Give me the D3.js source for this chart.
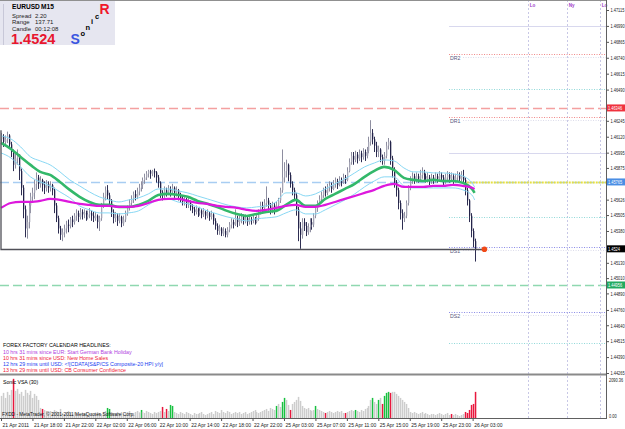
<!DOCTYPE html>
<html><head><meta charset="utf-8">
<script src="https://cdn.jsdelivr.net/npm/d3@7"></script>
<style>body{margin:0;background:#fff}svg{display:block;font-family:"Liberation Sans",Arial,sans-serif}</style>
</head><body><svg id="c" width="625" height="429"></svg>
<script>
// ---------------- DATA ----------------
const close=[1.4612,1.4608,1.4610,1.4613,1.4606,1.4600,1.4590,1.4595,1.4598,1.4585,
1.4572,1.4555,1.4540,1.4545,1.4558,1.4565,1.4568,1.4575,1.4580,1.4575,
1.4578,1.4574,1.4572,1.4575,1.4572,1.4574,1.4570,1.4558,1.4548,1.4540,
1.4535,1.4537,1.4540,1.4543,1.4542,1.4547,1.4545,1.4550,1.4552,1.4549,
1.4553,1.4551,1.4552,1.4549,1.4551,1.4552,1.4550,1.4548,1.4550,1.4545,
1.4548,1.4558,1.4565,1.4570,1.4566,1.4562,1.4553,1.4548,1.4550,1.4546,
1.4549,1.4544,1.4547,1.4552,1.4556,1.4560,1.4563,1.4567,1.4565,1.4569,
1.4572,1.4574,1.4578,1.4580,1.4583,1.4585,1.4583,1.4585,1.4584,1.4580,
1.4576,1.4568,1.4566,1.4570,1.4568,1.4571,1.4569,1.4572,1.4568,1.4570,
1.4566,1.4564,1.4561,1.4563,1.4559,1.4561,1.4557,1.4555,1.4553,1.4555,
1.4552,1.4554,1.4551,1.4553,1.4550,1.4552,1.4549,1.4551,1.4546,1.4542,
1.4538,1.4540,1.4536,1.4538,1.4535,1.4539,1.4543,1.4545,1.4543,1.4548,
1.4545,1.4547,1.4549,1.4546,1.4548,1.4545,1.4547,1.4546,1.4548,1.4545,
1.4548,1.4553,1.4558,1.4556,1.4560,1.4562,1.4558,1.4555,1.4558,1.4554,
1.4558,1.4562,1.4570,1.4580,1.4585,1.4590,1.4582,1.4575,1.4570,1.4566,
1.4555,1.4540,1.4535,1.4545,1.4542,1.4537,1.4541,1.4545,1.4543,1.4550,
1.4556,1.4560,1.4563,1.4566,1.4570,1.4568,1.4572,1.4574,1.4571,1.4575,
1.4577,1.4574,1.4578,1.4576,1.4580,1.4578,1.4585,1.4592,1.4597,1.4594,
1.4598,1.4595,1.4599,1.4596,1.4600,1.4597,1.4601,1.4608,1.4615,1.4610,
1.4605,1.4600,1.4602,1.4596,1.4593,1.4597,1.4605,1.4608,1.4595,1.4585,
1.4576,1.4570,1.4560,1.4552,1.4548,1.4550,1.4560,1.4572,1.4578,1.4581,
1.4578,1.4581,1.4579,1.4582,1.4584,1.4581,1.4579,1.4580,1.4577,1.4580,
1.4578,1.4581,1.4579,1.4582,1.4580,1.4577,1.4580,1.4582,1.4579,1.4581,
1.4578,1.4580,1.4582,1.4579,1.4581,1.4578,1.4570,1.4562,1.4550,1.4538,
1.4530,1.4524];
const open=[1.4610,1.4612,1.4608,1.4610,1.4613,1.4606,1.4600,1.4590,1.4595,1.4598,
1.4585,1.4572,1.4555,1.4540,1.4545,1.4558,1.4565,1.4568,1.4575,1.4580,
1.4575,1.4578,1.4574,1.4572,1.4575,1.4572,1.4574,1.4570,1.4558,1.4548,
1.4540,1.4535,1.4537,1.4540,1.4543,1.4542,1.4547,1.4545,1.4550,1.4552,
1.4549,1.4553,1.4551,1.4552,1.4549,1.4551,1.4552,1.4550,1.4548,1.4550,
1.4545,1.4548,1.4558,1.4565,1.4570,1.4566,1.4562,1.4553,1.4548,1.4550,
1.4546,1.4549,1.4544,1.4547,1.4552,1.4556,1.4560,1.4563,1.4567,1.4565,
1.4569,1.4572,1.4574,1.4578,1.4580,1.4583,1.4585,1.4583,1.4585,1.4584,
1.4580,1.4576,1.4568,1.4566,1.4570,1.4568,1.4571,1.4569,1.4572,1.4568,
1.4570,1.4566,1.4564,1.4561,1.4563,1.4559,1.4561,1.4557,1.4555,1.4553,
1.4555,1.4552,1.4554,1.4551,1.4553,1.4550,1.4552,1.4549,1.4551,1.4546,
1.4542,1.4538,1.4540,1.4536,1.4538,1.4535,1.4539,1.4543,1.4545,1.4543,
1.4548,1.4545,1.4547,1.4549,1.4546,1.4548,1.4545,1.4547,1.4546,1.4548,
1.4545,1.4548,1.4553,1.4558,1.4556,1.4560,1.4562,1.4558,1.4555,1.4558,
1.4554,1.4558,1.4562,1.4570,1.4580,1.4585,1.4590,1.4582,1.4575,1.4570,
1.4566,1.4555,1.4540,1.4535,1.4545,1.4542,1.4537,1.4541,1.4545,1.4543,
1.4550,1.4556,1.4560,1.4563,1.4566,1.4570,1.4568,1.4572,1.4574,1.4571,
1.4575,1.4577,1.4574,1.4578,1.4576,1.4580,1.4578,1.4585,1.4592,1.4597,
1.4594,1.4598,1.4595,1.4599,1.4596,1.4600,1.4597,1.4601,1.4608,1.4615,
1.4610,1.4605,1.4600,1.4602,1.4596,1.4593,1.4597,1.4605,1.4608,1.4595,
1.4585,1.4576,1.4570,1.4560,1.4552,1.4548,1.4550,1.4560,1.4572,1.4578,
1.4581,1.4578,1.4581,1.4579,1.4582,1.4584,1.4581,1.4579,1.4580,1.4577,
1.4580,1.4578,1.4581,1.4579,1.4582,1.4580,1.4577,1.4580,1.4582,1.4579,
1.4581,1.4578,1.4580,1.4582,1.4579,1.4581,1.4578,1.4570,1.4562,1.4550,
1.4538,1.4530];
const high=[1.4615,1.4614,1.4613,1.4616,1.4614,1.4608,1.4602,1.4600,1.4602,1.4598,
1.4587,1.4574,1.4558,1.4550,1.4560,1.4568,1.4572,1.4578,1.4584,1.4582,
1.4581,1.4579,1.4577,1.4578,1.4577,1.4577,1.4575,1.4572,1.4560,1.4550,
1.4542,1.4540,1.4543,1.4546,1.4547,1.4549,1.4550,1.4552,1.4555,1.4554,
1.4556,1.4555,1.4555,1.4554,1.4554,1.4556,1.4554,1.4553,1.4553,1.4551,
1.4550,1.4560,1.4568,1.4573,1.4574,1.4568,1.4563,1.4555,1.4553,1.4552,
1.4552,1.4550,1.4550,1.4554,1.4558,1.4563,1.4566,1.4569,1.4570,1.4572,
1.4575,1.4577,1.4580,1.4583,1.4585,1.4586,1.4586,1.4586,1.4587,1.4585,
1.4582,1.4577,1.4570,1.4573,1.4572,1.4574,1.4573,1.4575,1.4573,1.4573,
1.4571,1.4568,1.4566,1.4566,1.4564,1.4564,1.4562,1.4559,1.4557,1.4558,
1.4556,1.4557,1.4555,1.4556,1.4554,1.4555,1.4553,1.4554,1.4552,1.4548,
1.4544,1.4543,1.4541,1.4541,1.4540,1.4541,1.4545,1.4548,1.4547,1.4555,
1.4550,1.4550,1.4552,1.4551,1.4551,1.4550,1.4550,1.4549,1.4551,1.4549,
1.4551,1.4555,1.4561,1.4561,1.4563,1.4573,1.4564,1.4560,1.4561,1.4560,
1.4561,1.4564,1.4572,1.4602,1.4592,1.4594,1.4591,1.4584,1.4577,1.4572,
1.4568,1.4557,1.4545,1.4548,1.4548,1.4545,1.4544,1.4548,1.4548,1.4552,
1.4558,1.4562,1.4566,1.4569,1.4572,1.4573,1.4575,1.4577,1.4576,1.4578,
1.4580,1.4579,1.4581,1.4580,1.4583,1.4582,1.4588,1.4595,1.4600,1.4600,
1.4601,1.4600,1.4602,1.4601,1.4603,1.4602,1.4604,1.4612,1.4625,1.4618,
1.4612,1.4608,1.4605,1.4603,1.4598,1.4600,1.4608,1.4611,1.4609,1.4597,
1.4588,1.4578,1.4572,1.4562,1.4555,1.4553,1.4562,1.4574,1.4581,1.4584,
1.4583,1.4584,1.4583,1.4586,1.4588,1.4586,1.4583,1.4584,1.4582,1.4583,
1.4582,1.4584,1.4583,1.4585,1.4584,1.4582,1.4583,1.4585,1.4584,1.4584,
1.4583,1.4583,1.4585,1.4584,1.4585,1.4586,1.4580,1.4572,1.4563,1.4552,
1.4540,1.4532];
const low=[1.4606,1.4604,1.4605,1.4607,1.4603,1.4596,1.4585,1.4587,1.4590,1.4578,
1.4566,1.4548,1.4533,1.4532,1.4540,1.4552,1.4560,1.4563,1.4570,1.4571,
1.4572,1.4569,1.4567,1.4569,1.4568,1.4569,1.4566,1.4552,1.4545,1.4536,
1.4531,1.4530,1.4533,1.4536,1.4537,1.4540,1.4541,1.4543,1.4546,1.4545,
1.4547,1.4547,1.4548,1.4546,1.4547,1.4548,1.4546,1.4545,1.4546,1.4540,
1.4538,1.4546,1.4556,1.4562,1.4563,1.4558,1.4549,1.4544,1.4545,1.4542,
1.4544,1.4541,1.4542,1.4545,1.4550,1.4554,1.4558,1.4560,1.4562,1.4563,
1.4566,1.4569,1.4571,1.4575,1.4578,1.4580,1.4579,1.4581,1.4580,1.4576,
1.4572,1.4564,1.4562,1.4564,1.4565,1.4566,1.4565,1.4567,1.4564,1.4565,
1.4562,1.4560,1.4558,1.4558,1.4556,1.4556,1.4554,1.4552,1.4550,1.4551,
1.4549,1.4550,1.4548,1.4549,1.4547,1.4548,1.4546,1.4547,1.4543,1.4539,
1.4535,1.4535,1.4534,1.4534,1.4533,1.4533,1.4537,1.4540,1.4540,1.4542,
1.4541,1.4542,1.4544,1.4543,1.4544,1.4542,1.4543,1.4543,1.4544,1.4543,
1.4544,1.4546,1.4551,1.4553,1.4554,1.4557,1.4554,1.4551,1.4552,1.4551,
1.4553,1.4556,1.4560,1.4568,1.4576,1.4580,1.4577,1.4572,1.4566,1.4563,
1.4550,1.4530,1.4524,1.4532,1.4538,1.4534,1.4535,1.4537,1.4539,1.4541,
1.4548,1.4553,1.4557,1.4561,1.4564,1.4565,1.4566,1.4569,1.4568,1.4570,
1.4572,1.4571,1.4573,1.4573,1.4575,1.4575,1.4577,1.4584,1.4590,1.4590,
1.4592,1.4591,1.4593,1.4592,1.4594,1.4593,1.4595,1.4599,1.4605,1.4606,
1.4600,1.4596,1.4596,1.4592,1.4590,1.4590,1.4595,1.4602,1.4590,1.4580,
1.4572,1.4565,1.4555,1.4547,1.4539,1.4545,1.4548,1.4558,1.4570,1.4575,
1.4575,1.4576,1.4576,1.4577,1.4579,1.4578,1.4576,1.4576,1.4574,1.4575,
1.4575,1.4576,1.4576,1.4577,1.4577,1.4574,1.4575,1.4577,1.4576,1.4577,
1.4575,1.4576,1.4577,1.4576,1.4577,1.4575,1.4566,1.4558,1.4545,1.4533,
1.4525,1.4514];
const volume=[1100,1250,1000,1300,1150,1400,1950,1350,1450,1200,1300,1100,1400,1250,1150,1350,1000,1200,1100,900,
500,450,400,350,300,350,300,400,350,300,450,250,200,300,350,250,200,300,250,200,
150,250,200,300,150,200,250,180,220,300,250,200,300,350,500,450,300,250,200,300,
250,300,200,250,300,350,200,250,300,350,280,400,300,250,350,300,250,200,300,250,
300,350,550,300,450,350,650,600,300,250,200,300,250,200,300,250,200,150,250,200,
200,250,300,200,150,200,250,300,200,350,300,250,400,300,250,350,300,200,250,300,
250,300,200,250,300,200,250,300,350,400,300,250,300,350,400,450,350,500,450,400,
600,700,550,800,1000,900,650,400,700,800,900,1050,850,600,500,450,500,400,350,400,
600,450,400,350,300,250,300,350,300,250,300,350,300,350,250,250,300,350,400,350,
400,350,300,400,350,450,500,600,900,1000,800,700,900,1000,700,1100,1250,1300,1250,1300,
1300,1200,1100,1000,900,800,700,500,300,250,300,250,200,250,300,200,250,200,150,200,
200,150,200,250,200,150,200,250,150,200,150,200,150,100,150,200,300,250,400,650,
700,1300];
const volType=("nnnnnnrnnn"+"nnnnnnnnnn"+"nrnnnnnnnn"+"nnnnnnnnnn"+"nnnnnnnnnn"+"nnnnggnnnn"+
"nnnnnnnnnn"+"ngnnnnnnnn"+"nnrnrnggnn"+"nnnnnnnnnn"+"nnnnnnnnnn"+"nnnnnnnnnn"+"nnnnnnnnnn"+
"nnnnnnnnnn"+"gnnggnnrnn"+"nnnnnnnnnn"+"gnnnnrnnnn"+"nnnnnrnnnn"+"gnnnnnnnng"+"nngnrgggrn"+
"nnnnnnnnnn"+"nnnnnnnnnn"+"nnnnnnnnnr"+"nnnnnnrrrr"+"rr").split("");
// indicator lines sampled every 5 bars (+ last bar)
const maBars=[0,5,10,15,20,25,30,35,40,45,50,55,60,65,70,75,80,85,90,95,100,105,110,115,120,125,130,135,140,145,150,155,160,165,170,175,180,185,190,195,200,205,210,215,220,225,230,235,240,241];
const maFast=[1.46071,1.46024,1.45961,1.45899,1.45844,1.45820,1.45765,1.45703,1.45648,1.45608,1.45585,1.45585,1.45569,1.45569,1.45585,1.45616,1.45663,1.45671,1.45663,1.45648,1.45616,1.45593,1.45569,1.45538,1.45514,1.45498,1.45514,1.45530,1.45538,1.45585,1.45624,1.45577,1.45577,1.45632,1.45671,1.45710,1.45750,1.45805,1.45852,1.45883,1.45860,1.45797,1.45781,1.45773,1.45781,1.45773,1.45773,1.45758,1.45703,1.45679];
const bandUp=[1.46126,1.46103,1.46040,1.45962,1.45930,1.45899,1.45844,1.45781,1.45734,1.45687,1.45648,1.45624,1.45608,1.45624,1.45640,1.45671,1.45710,1.45710,1.45695,1.45679,1.45655,1.45632,1.45608,1.45585,1.45569,1.45561,1.45569,1.45577,1.45608,1.45679,1.45679,1.45655,1.45671,1.45710,1.45750,1.45789,1.45836,1.45883,1.45914,1.45938,1.45930,1.45875,1.45844,1.45844,1.45836,1.45836,1.45828,1.45812,1.45750,1.45726];
const bandDn=[1.45993,1.45954,1.45883,1.45805,1.45765,1.45734,1.45687,1.45640,1.45577,1.45546,1.45522,1.45522,1.45514,1.45522,1.45538,1.45585,1.45624,1.45632,1.45608,1.45593,1.45569,1.45538,1.45514,1.45491,1.45475,1.45459,1.45475,1.45483,1.45491,1.45522,1.45546,1.45514,1.45514,1.45546,1.45585,1.45624,1.45671,1.45726,1.45773,1.45805,1.45805,1.45734,1.45718,1.45718,1.45718,1.45718,1.45718,1.45703,1.45655,1.45624];
const maSlow=[1.45561,1.45600,1.45608,1.45608,1.45616,1.45632,1.45624,1.45608,1.45593,1.45585,1.45577,1.45577,1.45569,1.45569,1.45577,1.45600,1.45624,1.45632,1.45632,1.45616,1.45600,1.45593,1.45577,1.45569,1.45561,1.45546,1.45538,1.45546,1.45561,1.45577,1.45585,1.45569,1.45569,1.45585,1.45608,1.45632,1.45655,1.45679,1.45703,1.45734,1.45750,1.45726,1.45726,1.45726,1.45734,1.45734,1.45742,1.45734,1.45718,1.45710];
const priceTicks=[1.47115,1.46990,1.46865,1.46740,1.46615,1.46490,1.46365,1.46245,1.46120,1.45995,1.45875,1.45750,1.45626,1.45505,1.45380,1.45255,1.45130,1.45010,1.44890,1.44760,1.44640,1.44515,1.44390,1.44265];
const timeTickBars=[0,16,32,48,64,80,96,112,128,144,160,176,192,208,224,240];
const timeTickLabels=["21 Apr 2011","21 Apr 18:00","21 Apr 22:00","22 Apr 02:00","22 Apr 06:00","22 Apr 10:00","22 Apr 14:00","22 Apr 18:00","22 Apr 22:00","25 Apr 03:00","25 Apr 07:00","25 Apr 11:00","25 Apr 15:00","25 Apr 19:00","25 Apr 23:00","26 Apr 03:00"];
const pivotPrices=[1.46990,1.46770,1.46495,1.46275,1.45992,1.45765,1.45490,1.45254,1.44744,1.44501];
const pivotNames=["","DR2","","DR1","","","","DS1","DS2",""];
const pivotKinds=["lav","red","cyan","red","lav","yellow","cyan","blue","blue","cyan"];
const levelPrices=[1.46346,1.45765,1.44956];
const levelLabels=["1.46346","1.45765","1.44956"];
const sessionBars=[268,288,305];
const sessionNames=["Lo","Ny","Lo"];
const lastPrice=1.4524, lastBar=241, volMax=2090.36;
const headlines=["FOREX FACTORY CALENDAR HEADLINES:","10 hrs 31 mins since EUR: Start German Bank Holiday","10 hrs 31 mins since USD: New Home Sales","12 hrs 29 mins until USD: \x3C![CDATA[S&P/CS Composite-20 HPI y/y]","13 hrs 29 mins until USD: CB Consumer Confidence"];

// ---------------- DRAW ----------------
const svg=d3.select("#c");
const W=606, mainBot=374, volTop=376, volBot=418, SX=0.7;
const x=d3.scaleLinear().domain([0,241]).range([1,474.6]);
const y=d3.scaleLinear().domain([1.44265,1.47115]).range([373,10]);
const yv=d3.scaleLinear().domain([0,volMax]).range([volBot,volTop]);
svg.append("rect").attr("width",625).attr("height",429).attr("fill","#fff");
const main=svg.append("g");
const lvlColors=["#f4a0a0","#a8cdf2","#8fd8b0"];
levelPrices.forEach((p,k)=>{
  main.append("line").attr("x1",0).attr("x2",W).attr("y1",Math.round(y(p))+0.5).attr("y2",Math.round(y(p))+0.5)
   .attr("stroke",lvlColors[k]).attr("stroke-width",1.6).attr("stroke-dasharray","9,4");
});
sessionBars.forEach((b,k)=>{
  const xx=Math.round(x(b))+0.5;
  main.append("line").attr("x1",xx).attr("x2",xx).attr("y1",0).attr("y2",volBot).attr("stroke","#c8c8e6").attr("stroke-dasharray","2,2");
  main.append("text").attr("x",xx+1.2).attr("y",6.5).attr("font-size",4.6).attr("fill","#a040c8").attr("font-weight","bold").text(sessionNames[k]);
});
const pk={lav:{c:"#d8d8ee",d:null,w:1.2},red:{c:"#f08888",d:"1,1.5",w:1},cyan:{c:"#90d8d8",d:"1,1.5",w:1},yellow:{c:"#e6e040",d:"2,1",w:2},blue:{c:"#8a8ae6",d:"1,1.5",w:1}};
pivotPrices.forEach((p,k)=>{
  const s=pk[pivotKinds[k]], yy=Math.round(y(p))+0.5;
  const x1=pivotKinds[k]==="yellow"?x(237):x(228);
  main.append("line").attr("x1",x1).attr("x2",W).attr("y1",yy).attr("y2",yy).attr("stroke",s.c).attr("stroke-width",s.w).attr("stroke-dasharray",s.d);
  if(pivotNames[k]){
    main.append("line").attr("x1",x(228)+14).attr("x2",W).attr("y1",yy+3).attr("y2",yy+3).attr("stroke","#dcdcea").attr("stroke-dasharray","1,1.5");
    main.append("text").attr("x",x(228)+1).attr("y",yy+5).attr("font-size",5.2).attr("fill","#55557a").text(pivotNames[k]);
  }
});
const idx=d3.range(close.length);
main.append("g").selectAll("line").data(idx).join("line")
 .attr("x1",i=>Math.round(x(i))+0.5).attr("x2",i=>Math.round(x(i))+0.5)
 .attr("y1",i=>y(high[i])).attr("y2",i=>y(low[i]))
 .attr("stroke",i=>close[i]>=open[i]?"#8e8ea0":"#2e2e52").attr("stroke-width",1);
main.append("g").selectAll("rect").data(idx).join("rect")
 .attr("x",i=>Math.round(x(i))).attr("width",1.3)
 .attr("y",i=>y(Math.max(open[i],close[i]))).attr("height",i=>Math.max(0.8,Math.abs(y(open[i])-y(close[i]))))
 .attr("fill",i=>close[i]>=open[i]?"#a4a4b4":"#24244a");
const ln=arr=>d3.line().x((d,k)=>x(maBars[k])).y(d=>y(d)).curve(d3.curveMonotoneX)(arr);
main.append("path").attr("d",ln(bandUp)).attr("fill","none").attr("stroke","#88d8f4").attr("stroke-width",1);
main.append("path").attr("d",ln(bandDn)).attr("fill","none").attr("stroke","#88d8f4").attr("stroke-width",1);
main.append("path").attr("d",ln(maFast)).attr("fill","none").attr("stroke","#33b86a").attr("stroke-width",2.6);
main.append("path").attr("d",ln(maSlow)).attr("fill","none").attr("stroke","#dd18dd").attr("stroke-width",2.2);
main.append("path").attr("d",`M${x(0)},${y(1.4617)}V${Math.round(y(lastPrice))+0.5}H${x(245)}`).attr("fill","none").attr("stroke","#505058").attr("stroke-width",1.3);
main.append("circle").attr("cx",x(246)).attr("cy",y(lastPrice)+0.5).attr("r",2.8).attr("fill","#f04a18");
const hlColors=["#000","#b040e0","#f01838","#2040f0","#f01838"];
const hlY=[346.8,354.3,360,365.8,371.8];
headlines.forEach((t,k)=>svg.append("text").attr("x",3).attr("y",hlY[k]).attr("font-size",5.3).attr("fill",hlColors[k]).text(t));
// info box
svg.append("rect").attr("x",0).attr("y",0).attr("width",115).attr("height",45).attr("fill","#e6e6f0");
svg.append("line").attr("x1",3.5).attr("x2",3.5).attr("y1",4).attr("y2",45).attr("stroke","#c8c8d8");
const info=svg.append("g").attr("font-size",6);
info.append("text").attr("x",12).attr("y",8.5).attr("font-weight","bold").attr("font-size",6.6).text("EURUSD");
info.append("text").attr("x",41).attr("y",8.5).attr("font-weight","bold").attr("font-size",6.6).text("M15");
[["Spread","2.20",17.5],["Range","137.71",24],["Candle","00:12:08",30.5]].forEach(r=>{
  info.append("text").attr("x",12).attr("y",r[2]).attr("fill","#222").text(r[0]);
  info.append("text").attr("x",35).attr("y",r[2]).attr("fill","#222").text(r[1]);
});
info.append("text").attr("x",11).attr("y",43.5).attr("font-size",14.5).attr("font-weight","bold").attr("fill","#e8162e").text(lastPrice.toFixed(4));
info.append("text").attr("x",70.6).attr("y",43.5).attr("font-size",14).attr("font-weight","bold").attr("fill","#3a55e0").text("S");
info.append("text").attr("x",80.6).attr("y",35.5).attr("font-size",7.5).attr("font-weight","bold").text("o");
info.append("text").attr("x",85.6).attr("y",29.5).attr("font-size",7.5).attr("font-weight","bold").text("n");
info.append("text").attr("x",91).attr("y",23.5).attr("font-size",7.5).attr("font-weight","bold").text("i");
info.append("text").attr("x",95).attr("y",18.5).attr("font-size",7.5).attr("font-weight","bold").text("c");
info.append("text").attr("x",99.5).attr("y",13.5).attr("font-size",14).attr("font-weight","bold").attr("fill","#f0182a").text("R");
// volume panel
svg.append("g").selectAll("rect").data(idx).join("rect")
 .attr("x",i=>Math.round(x(i))-0.2).attr("width",1.5)
 .attr("y",i=>yv(volume[i])).attr("height",i=>volBot-yv(volume[i]))
 .attr("fill",i=>volType[i]==="g"?"#18c040":volType[i]==="r"?"#e8183e":"#cdcdcd");
svg.append("text").attr("x",3).attr("y",384).attr("font-size",5.2).text("Sonic VSA (30)");
svg.append("text").attr("x",2).attr("y",416).attr("font-size",4.8).attr("fill","#111").text("FXDD - MetaTrader, \u00A9 2001-2011 MetaQuotes Software Corp.");
// frames
svg.append("line").attr("x1",0).attr("x2",W).attr("y1",0.5).attr("y2",0.5).attr("stroke","#909090");
svg.append("rect").attr("x",0).attr("y",mainBot-0.5).attr("width",W).attr("height",2).attr("fill","#8a8a8a");
svg.append("line").attr("x1",0).attr("x2",W).attr("y1",volBot+0.5).attr("y2",volBot+0.5).attr("stroke","#606060");
svg.append("line").attr("x1",W+0.5).attr("x2",W+0.5).attr("y1",0).attr("y2",volBot+1).attr("stroke","#606060");
// right price axis: condensed labels (horizontal scale) so they fit like the reference
const boxPrices=[levelPrices[0],levelPrices[1],lastPrice,levelPrices[2]];
const ax=svg.append("g").attr("transform",`translate(${W+0.5},0)`)
 .call(d3.axisRight(y).tickValues(priceTicks).tickFormat(d3.format(".5f")).tickSize(2.5).tickPadding(1.5));
ax.select(".domain").remove();
ax.selectAll("line").attr("stroke","#555");
ax.selectAll(".tick").filter(d=>boxPrices.some(b=>Math.abs(y(d)-y(b))<3.6)).select("text").remove();
ax.selectAll("text").attr("font-size",5.6).attr("font-family","Liberation Sans,Arial").attr("fill","#222")
  .attr("x",4/SX).attr("transform",`scale(${SX},1)`);
const boxC=["#f0323e","#4a8ee4","#000000","#22aa60"];
[[boxPrices[0],levelLabels[0],0],[boxPrices[1],levelLabels[1],1],[boxPrices[2],lastPrice.toFixed(4),2],[boxPrices[3],levelLabels[2],3]].forEach(b=>{
  const yy=y(b[0]);
  svg.append("rect").attr("x",W+1).attr("y",yy-3.5).attr("width",18).attr("height",7).attr("fill",boxC[b[2]]);
  svg.append("text").attr("transform",`translate(${W+2},${yy+2}) scale(${SX},1)`).attr("font-size",5.6).attr("fill","#fff").text(b[1]);
});
svg.append("text").attr("transform",`translate(${W+3},${volTop+6}) scale(${SX},1)`).attr("font-size",5.6).attr("fill","#222").text(volMax.toFixed(2));
svg.append("text").attr("transform",`translate(${W+3},${volBot}) scale(${SX},1)`).attr("font-size",5.6).attr("fill","#222").text("0.00");
// time axis
const tx=svg.append("g").attr("transform",`translate(0,${volBot+0.5})`)
 .call(d3.axisBottom(x).tickValues(timeTickBars).tickFormat((d,k)=>timeTickLabels[k]).tickSize(2.5).tickPadding(2));
tx.select(".domain").remove();
tx.selectAll("line").attr("stroke","#555");
tx.selectAll("text").attr("font-size",5).attr("font-family","Liberation Sans,Arial").attr("text-anchor","start").attr("dx",1).attr("fill","#222");
</script></body></html>
